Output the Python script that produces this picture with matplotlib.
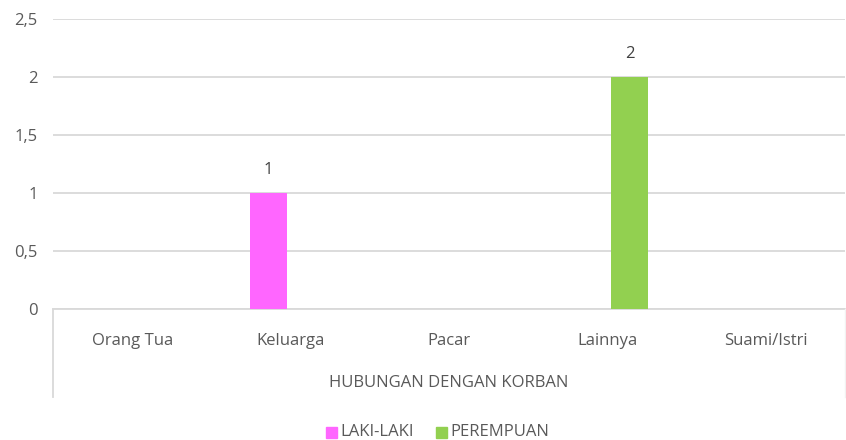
import matplotlib
matplotlib.use("Agg")
import matplotlib.pyplot as plt
import numpy as np
from matplotlib.ticker import FuncFormatter
from matplotlib.patches import Rectangle
from matplotlib.lines import Line2D

categories = ["Orang Tua", "Keluarga", "Pacar", "Lainnya", "Suami/Istri"]
laki = [0, 1, 0, 0, 0]
perempuan = [0, 0, 0, 2, 0]
series_names = ["LAKI-LAKI", "PEREMPUAN"]
axis_title = "HUBUNGAN DENGAN KORBAN"
yticks = [0, 0.5, 1, 1.5, 2, 2.5]

plt.rcParams['font.family'] = ['Open Sans', 'DejaVu Sans']
txt = '#595959'
pink = '#FF66FF'
green = '#92D050'
grid = '#D9D9D9'
fs = 12

W, H = 846, 440
fig = plt.figure(figsize=(W/100, H/100), dpi=100)
L, R, B, T = 53, 845, 309, 19
ax = fig.add_axes([L/W, 1-B/H, (R-L)/W, (B-T)/H])

x = np.arange(len(categories))
w = 0.23
off = 0.14
b1 = ax.bar(x-off, laki, w, color=pink, zorder=3)
b2 = ax.bar(x+off, perempuan, w, color=green, zorder=3)
for bars, vals in ((b1, laki), (b2, perempuan)):
    for r, v in zip(bars, vals):
        if v:
            ax.annotate(f"{v}", (r.get_x()+r.get_width()/2, v), xytext=(0, 11),
                        textcoords='offset points', ha='center', va='bottom',
                        fontsize=fs, color='#404040')

ax.set_xlim(-0.5, len(categories)-0.5)
ax.set_ylim(0, 2.5)
ax.set_yticks(yticks)
ax.yaxis.set_major_formatter(FuncFormatter(lambda v, p: (f"{v:g}").replace('.', ',')))
ax.grid(axis='y', color=grid, lw=1.3, zorder=0)
ax.set_axisbelow(True)
for s in ['top', 'right', 'left']:
    ax.spines[s].set_visible(False)
ax.spines['bottom'].set_color(grid)
ax.spines['bottom'].set_linewidth(1.3)
ax.tick_params(axis='y', length=0, pad=11, labelsize=fs, labelcolor=txt)
ax.tick_params(axis='x', length=0, pad=17, labelsize=fs, labelcolor=txt)
ax.set_xticks(x)
ax.set_xticklabels(categories)

# multi-level axis lines
fig.add_artist(Line2D([L/W, L/W], [1-B/H, 1-397/H], color=grid, lw=1.3))
fig.add_artist(Line2D([R/W, R/W], [1-B/H, 1-397/H], color='#F2F2F2', lw=1.0))
fig.text((L+R)/2/W, 1-383/H, axis_title, ha='center', va='center', fontsize=fs, color=txt)

# legend
ly = 1-432/H
fig.add_artist(Rectangle((326/W, ly-6/H), 11/W, 11/H, color=pink, transform=fig.transFigure))
fig.text(340/W, ly, series_names[0], ha='left', va='center', fontsize=fs, color=txt)
fig.add_artist(Rectangle((436/W, ly-6/H), 11/W, 11/H, color=green, transform=fig.transFigure))
fig.text(450/W, ly, series_names[1], ha='left', va='center', fontsize=fs, color=txt)

fig.savefig("out.png", dpi=100)
